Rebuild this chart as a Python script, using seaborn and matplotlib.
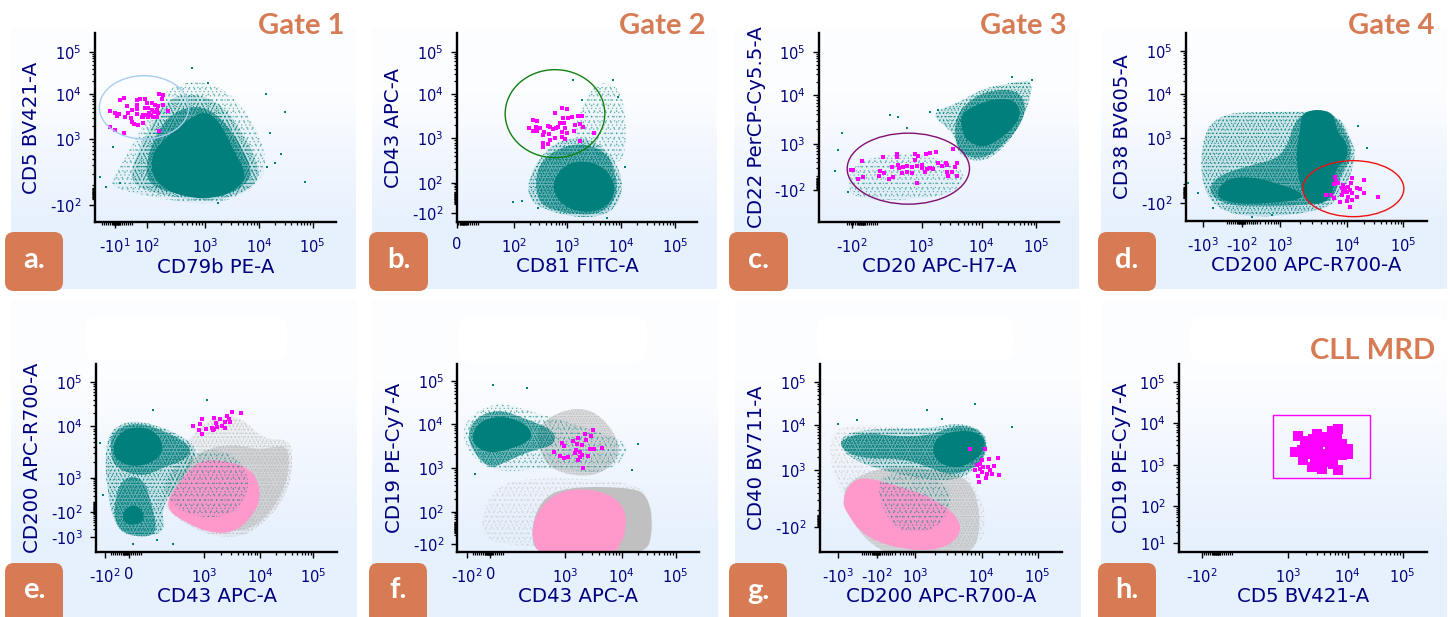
import numpy as np
import matplotlib
matplotlib.use('Agg')
import matplotlib.pyplot as plt
import seaborn as sns
from matplotlib.patches import Ellipse, FancyBboxPatch, PathPatch, Rectangle
from matplotlib.path import Path

# =========================
# 1. DATA (display channels)
# =========================
TEAL = '#007f7c'
PINK = '#ff99cc'
GREY = '#c0c0c0'
MAGENTA = '#ff00ff'
NAVY = '#00007f'
ORANGE = '#d67b54'

x_labels = ['CD79b PE-A', 'CD81 FITC-A', 'CD20 APC-H7-A', 'CD200 APC-R700-A',
            'CD43 APC-A', 'CD43 APC-A', 'CD200 APC-R700-A', 'CD5 BV421-A']
y_labels = ['CD5 BV421-A', 'CD43 APC-A', 'CD22 PerCP-Cy5.5-A', 'CD38 BV605-A',
            'CD200 APC-R700-A', 'CD19 PE-Cy7-A', 'CD40 BV711-A', 'CD19 PE-Cy7-A']
letters = ['a.', 'b.', 'c.', 'd.', 'e.', 'f.', 'g.', 'h.']
gate_titles = ['Gate 1', 'Gate 2', 'Gate 3', 'Gate 4', '', '', '', 'CLL MRD']

# rare population events
a_rare = [(330,332),(345,340),(352,348),(358,342),(360,300),(372,294),(382,318),(395,330),(385,340),(375,352),
          (392,355),(395,365),(403,373),(415,375),(430,370),(412,300),(420,298),(435,298),(412,315),(412,328),
          (412,342),(428,345),(425,350),(440,345),(445,325),(455,330),(440,310),(455,308),(465,315),(475,318),
          (490,315),(478,282),(490,285),(485,297),(505,333),(470,350),(458,350),(445,352),(430,352),(475,338),
          (462,335),(330,380),(345,390),(372,398),(478,393),(448,340),(435,325),(452,345),(470,330)]
b_rare = [(505,360),(515,362),(493,385),(505,393),(515,393),(512,380),(525,383),(537,395),(535,405),(548,378),
          (555,382),(565,388),(572,385),(552,403),(570,340),(590,324),(605,327),(595,355),(610,355),(620,352),
          (585,370),(598,368),(580,380),(600,385),(590,395),(605,400),(590,410),(600,418),(570,415),(555,420),
          (535,428),(550,432),(535,440),(630,375),(645,372),(655,382),(628,392),(640,347),(650,348),(687,398),(645,423)]
c_rare = [(378,511),(385,511),(410,484),(475,472),(516,462),(517,472),(570,462),(580,467),(603,462),(615,458),
          (632,456),(684,448),(500,500),(520,495),(522,503),(535,500),(545,497),(560,500),(575,498),(590,495),
          (590,505),(605,508),(615,505),(625,508),(570,480),(638,488),(652,497),(662,488),(665,495),(695,490),
          (690,500),(466,512),(478,518),(463,527),(400,536),(415,532),(493,536),(505,532),(530,520),(545,515),
          (560,520),(600,516),(665,515),(680,516),(670,527),(695,527),(577,548)]
d_rare = [(750,530),(752,542),(748,552),(760,550),(838,540),(800,535),(797,550),(775,555),(790,560),(770,565),
          (785,575),(770,585),(790,590),(800,580),(815,565),(825,567),(838,578),(878,592),(722,586),(738,586),
          (748,594),(765,605),(785,603),(800,600),(815,592),(796,622),(775,575),(780,565),(795,570)]
e_rare = [(578,327),(597,338),(600,320),(605,307),(606,352),(618,336),(643,303),(648,318),(635,332),(640,340),
          (650,330),(660,307),(665,327),(676,333),(680,296),(688,305),(690,316),(676,314),(697,285),(722,287),(643,335)]
f_rare = [(568,405),(585,416),(598,422),(610,421),(590,378),(598,388),(625,372),(640,362),(660,350),(683,340),
          (678,358),(663,370),(635,380),(650,384),(632,398),(630,408),(645,404),(675,395),(688,395),(712,393),
          (650,415),(645,420),(640,428),(668,417),(655,454)]
g_rare = [(735,395),(779,397),(793,427),(819,422),(770,430),(765,440),(755,445),(750,458),(765,455),(775,450),
          (790,450),(808,447),(795,460),(785,470),(800,470),(760,478),(782,484),(762,495),(822,473),(770,465)]
h_rare = [(640,358),(665,372),(695,352),(740,342),(760,336),(630,405),(655,405),(655,430),(680,450),(710,455),
          (760,458),(790,395),(770,415),(745,425),(700,385),(725,375),(750,385),(690,420),(720,410),(770,380),
          (700,405),(735,400),(685,365),(720,360),(675,390),(660,385),(705,360),(755,360),(740,365),(775,400),
          (745,440),(695,440),(720,435),(790,410),(650,400),(680,410),(705,425),(760,400)]

# stray events outside the populations
a_dots = [(575,205),(625,250),(797,283),(855,337),(842,462),(825,490),(915,545),(300,530),(318,560),(360,550),(800,500),(655,608),(340,440),(810,400)]
b_dots = [(445,605),(470,603),(745,240),(760,290),(625,240),(520,625),(725,655),(780,500),(650,300)]
c_dots = [(495,345),(520,352),(545,385),(352,400),(330,512),(340,450),(370,575),(640,330),(615,335),(920,240),(860,232)]
d_dots = [(820,378),(845,445),(310,548),(340,580),(385,625),(500,650),(560,645)]
e_dots = [(460,280),(300,378),(310,535),(400,680),(470,670),(520,680),(620,250)]
f_dots = [(385,205),(485,213),(800,460),(820,380),(330,470)]
g_dots = [(397,308),(605,280),(750,262),(650,305),(340,320),(860,330)]

# population outlines, from the faint edge inwards
a_faint = [(320,560),(360,500),(400,430),(460,320),(510,260),(600,240),(700,280),(790,420),(800,530),(700,600),(600,615),(450,590)]
a_sparse = [(385,550),(410,460),(450,380),(490,310),(560,275),(660,305),(730,400),(775,490),(775,550),(700,590),(620,605),(480,585)]
a_mid = [(440,555),(440,470),(480,380),(530,330),(610,315),(680,370),(730,450),(760,520),(720,570),(640,595),(540,585)]
a_core = [(505,575),(455,530),(455,460),(500,410),(560,360),(620,330),(665,375),(700,450),(745,530),(700,575),(640,595),(580,595)]

b_faint = [(650,310),(700,240),(780,270),(785,500),(700,470),(620,430)]
b_sparse = [(480,600),(505,490),(590,410),(700,420),(775,520),(765,615),(700,655),(580,645)]
b_mid = [(520,605),(510,540),(530,480),(590,440),(660,430),(730,460),(755,530),(755,595),(710,640),(640,645),(560,630)]
b_core = [(585,610),(560,560),(585,505),(640,480),(710,495),(750,545),(745,600),(700,635),(635,635)]

c_low = [(365,580),(380,490),(500,460),(640,470),(730,520),(690,580),(560,600),(430,600)]
c_sparse = [(610,340),(700,310),(770,265),(880,245),(925,240),(910,320),(860,420),(780,490),(700,470),(690,400)]
c_mid = [(690,430),(690,350),(740,295),(800,270),(880,270),(905,320),(885,380),(830,440),(780,475),(720,470)]
c_core = [(712,400),(705,345),(750,315),(815,295),(870,300),(890,340),(865,385),(820,420),(780,442),(735,430)]

d_sparse = [(345,430),(395,340),(560,335),(760,335),(800,420),(815,470),(770,600),(680,640),(460,655),(355,595)]
d_mid = [(365,575),(400,525),(500,495),(600,470),(635,335),(745,335),(795,420),(800,475),(765,525),(745,605),(660,615),(520,620),(420,615)]
d_core = [(635,505),(635,440),(645,395),(650,330),(745,330),(755,395),(785,425),(790,475),(750,505),(745,590),(690,620),(655,590)]
d_core_low = [(395,575),(425,535),(500,530),(560,545),(650,575),(650,600),(540,610),(470,612),(405,600)]

e_grey_soft = [(470,560),(520,430),(580,350),(640,300),(720,295),(790,370),(870,365),(880,440),(860,540),(790,620),(720,665),(600,650)]
e_grey = [(500,560),(540,470),(600,400),(700,380),(780,400),(860,380),(870,440),(850,530),(790,610),(740,640),(650,645),(570,620)]
e_pink = [(490,570),(540,490),(600,425),(700,435),(765,465),(785,540),(755,600),(705,645),(640,650),(560,620)]
e_faint = [(480,520),(560,400),(700,400),(760,500),(700,600),(560,600)]
e_sparse = [(315,400),(335,330),(420,305),(580,370),(590,430),(480,560),(500,660),(350,650),(320,520)]
e_mid = [(330,400),(335,345),(400,315),(480,335),(575,385),(565,425),(480,455),(430,480),(345,455)]
e_mid_low = [(340,570),(365,480),(430,480),(455,560),(475,655),(400,660),(350,635)]
e_core = [(338,385),(365,340),(420,328),(470,345),(495,400),(455,440),(390,450),(345,425)]
e_core_low = [(365,590),(395,560),(425,575),(435,610),(405,625),(375,620)]

f_grey_up = [(510,350),(555,295),(640,270),(710,295),(770,385),(745,445),(680,480),(590,470),(535,435)]
f_grey_low = [(340,640),(380,510),(500,480),(770,490),(860,530),(865,690),(400,690)]
f_grey = [(495,650),(525,550),(600,510),(780,510),(850,530),(865,640),(840,720),(520,720)]
f_pink = [(495,650),(525,565),(600,515),(710,520),(780,565),(785,650),(735,730),(530,730)]
f_sparse = [(285,320),(390,250),(520,290),(690,340),(810,385),(725,475),(560,450),(400,470),(315,420)]
f_mid = [(305,365),(325,305),(400,275),(480,305),(570,340),(570,385),(500,400),(420,435),(380,455),(340,425)]
f_core = [(320,355),(345,310),(420,295),(490,325),(505,365),(445,395),(370,410),(328,385)]

g_grey_soft = [(300,340),(420,320),(620,340),(760,500),(790,640),(740,700),(500,700),(340,540)]
g_grey = [(345,540),(385,480),(500,445),(680,465),(745,500),(770,620),(740,725),(520,725),(415,670)]
g_pink = [(350,555),(375,495),(425,480),(510,505),(610,535),(705,600),(705,665),(625,705),(495,690),(410,650),(370,595)]
g_sparse = [(340,360),(420,335),(620,335),(700,315),(785,345),(785,420),(700,500),(500,470),(360,420)]
g_faint = [(440,470),(600,470),(690,520),(650,640),(500,650)]
g_mid = [(340,370),(420,345),(520,360),(620,355),(700,320),(780,345),(785,415),(745,455),(680,475),(620,455),(540,425),(420,425),(360,405)]
g_core = [(620,395),(640,355),(700,340),(760,345),(785,380),(760,425),(700,455),(640,440)]

# gates: centre x, centre y, width, height
a_gate = (432, 322, 268, 190)
b_gate = (570, 341, 299, 264)
c_gate = (550, 506, 367, 213)
d_gate = (805, 566, 303, 168)
h_box = (565, 294, 290, 190)

# decade ticks per panel as (channel, label)
a_xticks = [(345,'-$10^{1}$'),(440,'$10^{2}$'),(615,'$10^{3}$'),(778,'$10^{4}$'),(938,'$10^{5}$')]
a_yticks = [(155,'$10^{5}$'),(283,'$10^{4}$'),(418,'$10^{3}$'),(615,'-$10^{2}$')]
b_xticks = [(275,'0'),(447,'$10^{2}$'),(607,'$10^{3}$'),(768,'$10^{4}$'),(930,'$10^{5}$')]
b_yticks = [(155,'$10^{5}$'),(283,'$10^{4}$'),(415,'$10^{3}$'),(548,'$10^{2}$'),(640,'-$10^{2}$')]
c_xticks = [(380,'-$10^{2}$'),(590,'$10^{3}$'),(770,'$10^{4}$'),(933,'$10^{5}$')]
c_yticks = [(155,'$10^{5}$'),(285,'$10^{4}$'),(432,'$10^{3}$'),(570,'-$10^{2}$')]
d_xticks = [(355,'-$10^{3}$'),(470,'-$10^{2}$'),(585,'$10^{3}$'),(787,'$10^{4}$'),(955,'$10^{5}$')]
d_yticks = [(153,'$10^{5}$'),(283,'$10^{4}$'),(415,'$10^{3}$'),(610,'-$10^{2}$')]
e_xticks = [(315,'-$10^{2}$'),(386,'0'),(612,'$10^{3}$'),(780,'$10^{4}$'),(940,'$10^{5}$')]
e_yticks = [(195,'$10^{5}$'),(328,'$10^{4}$'),(482,'$10^{3}$'),(585,'-$10^{2}$'),(660,'-$10^{3}$')]
f_xticks = [(305,'-$10^{2}$'),(376,'0'),(600,'$10^{3}$'),(770,'$10^{4}$'),(932,'$10^{5}$')]
f_yticks = [(193,'$10^{5}$'),(320,'$10^{4}$'),(452,'$10^{3}$'),(585,'$10^{2}$'),(682,'-$10^{2}$')]
g_xticks = [(340,'-$10^{3}$'),(455,'-$10^{2}$'),(570,'$10^{3}$'),(770,'$10^{4}$'),(938,'$10^{5}$')]
g_yticks = [(195,'$10^{5}$'),(323,'$10^{4}$'),(460,'$10^{3}$'),(630,'-$10^{2}$')]
h_xticks = [(350,'-$10^{2}$'),(610,'$10^{3}$'),(788,'$10^{4}$'),(953,'$10^{5}$')]
h_yticks = [(195,'$10^{5}$'),(318,'$10^{4}$'),(445,'$10^{3}$'),(567,'$10^{2}$'),(677,'$10^{1}$')]

# =========================
# 2. LAYOUT (pixels)
# =========================
W, H = 1450, 617
sns.set_theme(style='white')
plt.rcParams['font.family'] = ['DejaVu Sans']
plt.rcParams['hatch.linewidth'] = 0.45

panels = [
    dict(crop=(0, 0), lim=(285, 1008, 667, 100), box=(11, 28, 356, 289), badge=(5, 232, 63, 291),
         rare=a_rare, dots=a_dots, xt=a_xticks, yt=a_yticks, zero=(350, 580), gate=a_gate, gate_c='#a9cdf0', lx=-0.262,
         layers=[(a_faint, TEAL, 'faint'), (a_sparse, TEAL, 'sparse'), (a_mid, TEAL, 'mid'), (a_core, TEAL, 'core')], right=345),
    dict(crop=(365, 0), lim=(275, 997, 665, 100), box=(372, 28, 717, 289), badge=(369, 232, 428, 291),
         rare=b_rare, dots=b_dots, xt=b_xticks, yt=b_yticks, zero=(295, 593), gate=b_gate, gate_c='#118011', lx=-0.262,
         layers=[(b_faint, TEAL, 'faint'), (b_sparse, TEAL, 'sparse'), (b_mid, TEAL, 'mid'), (b_core, TEAL, 'core')], right=706),
    dict(crop=(725, 0), lim=(282, 1003, 665, 100), box=(734, 28, 1079, 289), badge=(729, 232, 788, 291),
         rare=c_rare, dots=c_dots, xt=c_xticks, yt=c_yticks, zero=(410, 550), gate=c_gate, gate_c='#800f70', lx=-0.262,
         layers=[(c_low, TEAL, 'faint'), (c_sparse, TEAL, 'sparse'), (c_mid, TEAL, 'mid'), (c_core, TEAL, 'core')], right=1067),
    dict(crop=(1085, 0), lim=(302, 1027, 662, 100), box=(1101, 28, 1447, 289), badge=(1098, 232, 1156, 291),
         rare=d_rare, dots=d_dots, xt=d_xticks, yt=d_yticks, zero=(470, 578), gate=d_gate, gate_c='#ee1111', lx=-0.262,
         layers=[(d_sparse, TEAL, 'sparse'), (d_mid, TEAL, 'mid'), (d_core, TEAL, 'core'), (d_core_low, TEAL, 'core')], right=1435),
    dict(crop=(0, 317), lim=(288, 1012, 704, 140), box=(11, 300, 357, 617), badge=(5, 563, 63, 625),
         rare=e_rare, dots=e_dots, xt=e_xticks, yt=e_yticks, zero=(378, 572), lx=-0.262,
         layers=[(e_grey_soft, GREY, 'sparse'), (e_grey, GREY, 'mid'), (e_pink, PINK, 'solid'), (e_faint, TEAL, 'faint'),
                 (e_sparse, TEAL, 'sparse'), (e_mid, TEAL, 'mid'), (e_mid_low, TEAL, 'mid'),
                 (e_core, TEAL, 'core'), (e_core_low, TEAL, 'core')]),
    dict(crop=(365, 317), lim=(277, 1002, 704, 140), box=(372, 300, 718, 617), badge=(369, 563, 427, 625),
         rare=f_rare, dots=f_dots, xt=f_xticks, yt=f_yticks, zero=(370, 632), lx=-0.262,
         layers=[(f_grey_low, GREY, 'faint'), (f_grey_up, GREY, 'mid'), (f_grey, GREY, 'solid'), (f_pink, PINK, 'solid'),
                 (f_sparse, TEAL, 'faint'), (f_mid, TEAL, 'mid'), (f_core, TEAL, 'core')]),
    dict(crop=(725, 317), lim=(285, 1010, 704, 140), box=(735, 300, 1081, 617), badge=(729, 563, 787, 625),
         rare=g_rare, dots=g_dots, xt=g_xticks, yt=g_yticks, zero=(455, 610), lx=-0.262,
         layers=[(g_grey_soft, GREY, 'faint'), (g_grey, GREY, 'mid'), (g_pink, PINK, 'solid'), (g_faint, TEAL, 'faint'),
                 (g_sparse, TEAL, 'sparse'), (g_mid, TEAL, 'mid'), (g_core, TEAL, 'core')]),
    dict(crop=(1085, 317), lim=(282, 1027, 704, 140), box=(1101, 300, 1447, 617), badge=(1098, 563, 1156, 625),
         rare=h_rare, dots=[], xt=h_xticks, yt=h_yticks, zero=(395, None), rect=h_box, lx=-0.232, big=True,
         layers=[], right=1435),
]

# whiter patches at the top of the lower panels
white_boxes = [(85, 317, 287, 360), (458, 317, 647, 362), (817, 317, 1013, 360), (1190, 317, 1447, 362)]


def smooth_patch(points, **kwargs):
    # closed curve through the midpoints of the outline
    pts = np.array(points, dtype=float)
    mids = (pts + np.roll(pts, -1, axis=0)) / 2
    verts = [mids[-1]]
    codes = [Path.MOVETO]
    for p, m in zip(pts, mids):
        verts += [p, m]
        codes += [Path.CURVE3, Path.CURVE3]
    return PathPatch(Path(verts, codes), **kwargs)


def draw_layer(ax, points, color, tier):
    rgb = matplotlib.colors.to_rgb(color)
    if tier in ('core', 'solid'):
        ax.add_patch(smooth_patch(points, facecolor=color, edgecolor='none', linewidth=0))
        return
    # two dot spacings laid over each other so the stipple looks less regular
    face, dot_alpha, hatches = {'mid': (0.5, 1.0, ['.....', '.......']),
                                'sparse': (0.16, 0.8, ['....', '.....']),
                                'faint': (0.04, 0.45, ['...', '....'])}[tier]
    ax.add_patch(smooth_patch(points, facecolor=rgb + (face,), edgecolor='none', linewidth=0))
    for hatch in hatches:
        ax.add_patch(smooth_patch(points, facecolor='none', edgecolor=rgb + (dot_alpha,), linewidth=0, hatch=hatch))


def minor_ticks(majors, zero):
    out = []
    for lo, hi in zip(majors[:-1], majors[1:]):
        if lo > 420:
            out += list(lo + (hi - lo) * np.log10(np.arange(2, 10)))
    out += list(np.linspace(zero - 45, zero + 45, 16))
    out += list(np.linspace(zero - 10, zero + 10, 9))
    return out


fig = plt.figure(figsize=(W / 100, H / 100), dpi=100, facecolor='white')

back = fig.add_axes([0, 0, 1, 1], zorder=0)
back.axis('off')

front = fig.add_axes([0, 0, 1, 1], zorder=5)
front.set_xlim(0, W)
front.set_ylim(H, 0)
front.axis('off')
front.patch.set_alpha(0)

bg_cmap = matplotlib.colors.LinearSegmentedColormap.from_list('bg', ['#fcfdff', '#e7f1fd'])

# =========================
# 3. PANELS
# =========================
for i, p in enumerate(panels):
    l, t, r, b = p['box']
    back.imshow([[0.0], [1.0]], extent=(l, r, b, t), aspect='auto', interpolation='bilinear', cmap=bg_cmap, zorder=1)

    x0, x1, y0, y1 = p['lim']
    ox, oy = p['crop']
    left, right = ox + x0 / 3, ox + x1 / 3
    bottom, top = oy + y0 / 3, oy + y1 / 3
    ax = fig.add_axes([left / W, 1 - bottom / H, (right - left) / W, (bottom - top) / H], zorder=2)
    ax.patch.set_alpha(0)

    for pts, color, tier in p['layers']:
        draw_layer(ax, pts, color, tier)

    if p['dots']:
        dots = np.array(p['dots'])
        sns.scatterplot(x=dots[:, 0], y=dots[:, 1], ax=ax, marker='s', color=TEAL, linewidth=0, s=1.2, zorder=3)

    rare = np.array(p['rare'])
    sns.scatterplot(x=rare[:, 0], y=rare[:, 1], ax=ax, marker='s', color=MAGENTA, linewidth=0,
                    s=58 if p.get('big') else 9, zorder=4)

    if 'gate' in p:
        cx, cy, w, h = p['gate']
        ax.add_patch(Ellipse((cx, cy), w, h, fill=False, edgecolor=p['gate_c'], linewidth=1.0, zorder=5))
    if 'rect' in p:
        rx, ry, w, h = p['rect']
        ax.add_patch(Rectangle((rx, ry), w, h, fill=False, edgecolor=MAGENTA, linewidth=1.0, zorder=5))

    ax.set_xlim(x0, x1)
    ax.set_ylim(y0, y1)
    sns.despine(ax=ax)
    for side in ['left', 'bottom']:
        ax.spines[side].set_linewidth(1.7)
        ax.spines[side].set_color('black')

    xmaj = [c for c, _ in p['xt']]
    ymaj = [c for c, _ in p['yt']]
    ax.set_xticks(xmaj, [s for _, s in p['xt']])
    ax.set_yticks(ymaj, [s for _, s in p['yt']])
    zx, zy = p['zero']
    ax.set_xticks([m for m in minor_ticks(xmaj, zx) if x0 < m < x1], minor=True)
    ymin = [y for a, c in zip(ymaj[:-1], ymaj[1:]) for y in c + (a - c) * np.log10(np.arange(2, 10))]
    if zy is not None:
        ymin += list(np.linspace(zy - 16, zy + 16, 16))
    ax.set_yticks([m for m in ymin if y1 < m < y0], minor=True)
    ax.tick_params(axis='both', which='major', direction='out', length=4.5, width=1.0, color='black',
                   labelsize=10.5, labelcolor=NAVY, bottom=True, left=True)
    ax.tick_params(axis='x', which='major', pad=6.5)
    ax.tick_params(axis='y', which='major', pad=5)
    ax.tick_params(axis='both', which='minor', direction='out', length=2.5, width=0.9, color='black',
                   bottom=True, left=True)

    ax.set_xlabel(x_labels[i], fontsize=14.2, color=NAVY, va='center')
    ax.set_ylabel(y_labels[i], fontsize=14.2, color=NAVY, va='center')
    ax.xaxis.set_label_coords(0.5, -45 / (bottom - top))
    ax.yaxis.set_label_coords(p['lx'], 0.5)

    # letter badge and gate title
    bl, bt, br, bb = p['badge']
    front.add_patch(FancyBboxPatch((bl + 8, bt + 8), br - bl - 16, bb - bt - 16,
                                   boxstyle='round,pad=8,rounding_size=9', facecolor=ORANGE, edgecolor='none'))
    front.text((bl + br) / 2, (232 + 291) / 2 + (0 if i < 4 else 331) - 2, letters[i], color='white', fontsize=21,
               fontweight='bold', family='Lato', ha='center', va='center')
    if gate_titles[i]:
        y_title = 26 if i < 4 else 351
        front.text(p['right'], y_title, gate_titles[i], color=ORANGE, fontsize=21, fontweight='bold',
                   family='Lato', ha='right', va='center')

for l, t, r, b in white_boxes:
    back.add_patch(FancyBboxPatch((l + 12, t + 12), r - l - 24, b - t - 24, boxstyle='round,pad=12,rounding_size=12',
                                  facecolor='white', edgecolor='none', zorder=2))
back.set_xlim(0, W)
back.set_ylim(H, 0)

plt.savefig('out.png', dpi=100)
print('saved')
